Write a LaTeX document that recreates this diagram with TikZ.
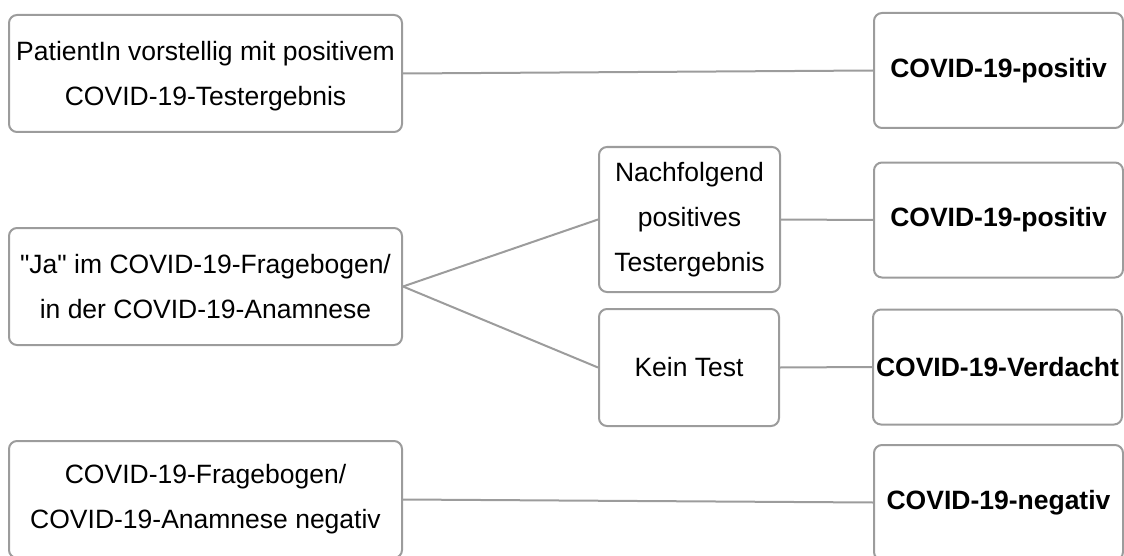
\documentclass[tikz,border=0pt]{standalone}
\usepackage{fontspec}
\setmainfont{Liberation Sans}[Ligatures=TeXOff]
\definecolor{edgegray}{RGB}{156,156,156}
\begin{document}
\begin{tikzpicture}[x=0.5pt,y=-0.5pt,
  box/.style={draw=edgegray, line width=1pt, rounded corners=4pt,
    rectangle, align=center, inner sep=0pt,
    font=\fontsize{13.25pt}{22.5pt}\selectfont},
  result/.style={box, minimum width=124.5pt, minimum height=57.5pt,
    font=\fontsize{13.25pt}{22.5pt}\selectfont\bfseries},
  link/.style={draw=edgegray, line width=1pt}]
  \useasboundingbox (0,0) rectangle (1124,556);

  % left column: starting situation
  \node[box, minimum width=196.5pt, minimum height=58.5pt] (pos) at (205.5,73.5)
    {\rule{0pt}{12pt}PatientIn vorstellig mit positivem\\COVID-19-Testergebnis};
  \node[box, minimum width=196.5pt, minimum height=58.5pt] (ja) at (205.5,286.5)
    {"Ja" im COVID-19-Fragebogen/\\in der COVID-19-Anamnese};
  \node[box, minimum width=196.5pt, minimum height=58.5pt] (neg) at (205.5,499.5)
    {COVID-19-Fragebogen/\\COVID-19-Anamnese negativ};

  % middle column: test outcome
  \node[box, minimum width=90.5pt, minimum height=72.5pt] (nach) at (689.5,219.5)
    {Nachfolgend\\positives\\Testergebnis};
  \node[box, minimum width=90pt, minimum height=58.5pt] (kein) at (689,367.5)
    {Kein Test};

  % right column: classification
  \node[result] (r1) at (998.5,70.5) {COVID-19-positiv};
  \node[result] (r2) at (998.5,220) {COVID-19-positiv};
  \node[result] (r3) at (997.5,367) {COVID-19-Verdacht};
  \node[result] (r4) at (998.5,502.5) {COVID-19-negativ};

  % connectors
  \draw[link] (pos.east) -- (r1.west);
  \draw[link] (ja.east) -- (nach.west);
  \draw[link] (ja.east) -- (kein.west);
  \draw[link] (nach.east) -- (r2.west);
  \draw[link] (kein.east) -- (r3.west);
  \draw[link] (neg.east) -- (r4.west);
\end{tikzpicture}
\end{document}
